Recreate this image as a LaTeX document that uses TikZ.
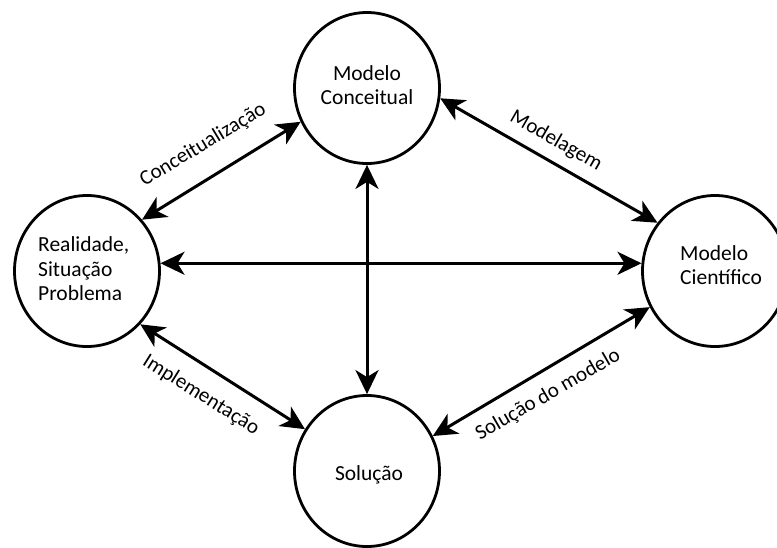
\documentclass[tikz,border=0pt]{standalone}
\usepackage{fontspec}
\setmainfont{Carlito}
\usetikzlibrary{shapes.geometric,arrows.meta}
\begin{document}
\begin{tikzpicture}[x=1pt,y=-1pt,
  bubble/.style={draw=black, line width=2.8pt, ellipse, inner sep=0pt, minimum width=145pt, minimum height=151pt, fill=white},
  ntext/.style={font=\fontsize{21.5}{24.5}\selectfont, text=black, align=left, inner sep=0pt},
  link/.style={line width=3pt, {Stealth[length=24pt,width=23pt,inset=7pt]}-{Stealth[length=24pt,width=23pt,inset=7pt]}},
  elabel/.style={font=\fontsize{21}{24}\selectfont, inner sep=0pt}]
\useasboundingbox (0,0) rectangle (777,547);
\fill[white] (0,0) rectangle (777,547);
\begin{scope}
\clip (0,0) rectangle (777,547);
\node[bubble] (mc) at (367,88) {};
\node[bubble] (re) at (87,271) {};
\node[bubble] (ci) at (715,271) {};
\node[bubble] (so) at (367,471) {};
\end{scope}
\node[ntext, align=center] (tmc) at (367,85) {Modelo\\Conceitual};
\node[ntext, anchor=west] (tre) at (38,269) {Realidade,\\Situação\\Problema};
\node[ntext, anchor=west] (tci) at (680,265) {Modelo\\Científico};
\node[ntext] (tso) at (369,475) {Solução};
\draw[link] (re.6) -- (ci.174);
\draw[link] (mc.south) -- (so.north);
\draw[link] (re.43) -- (mc.207.6);
\draw[link] (mc.352.4) -- (ci.140);
\draw[link] (re.315.5) -- (so.146.5);
\draw[link] (ci.209.6) -- (so.28.4);
\node[elabel, rotate=31] (lc) at (203,145) {Conceitualização};
\node[elabel, rotate=-30] (lm) at (556,141) {Modelagem};
\node[elabel, rotate=-32] (li) at (201,395) {Implementação};
\node[elabel, rotate=30] (ls) at (548,395) {Solução do modelo};
\end{tikzpicture}
\end{document}
